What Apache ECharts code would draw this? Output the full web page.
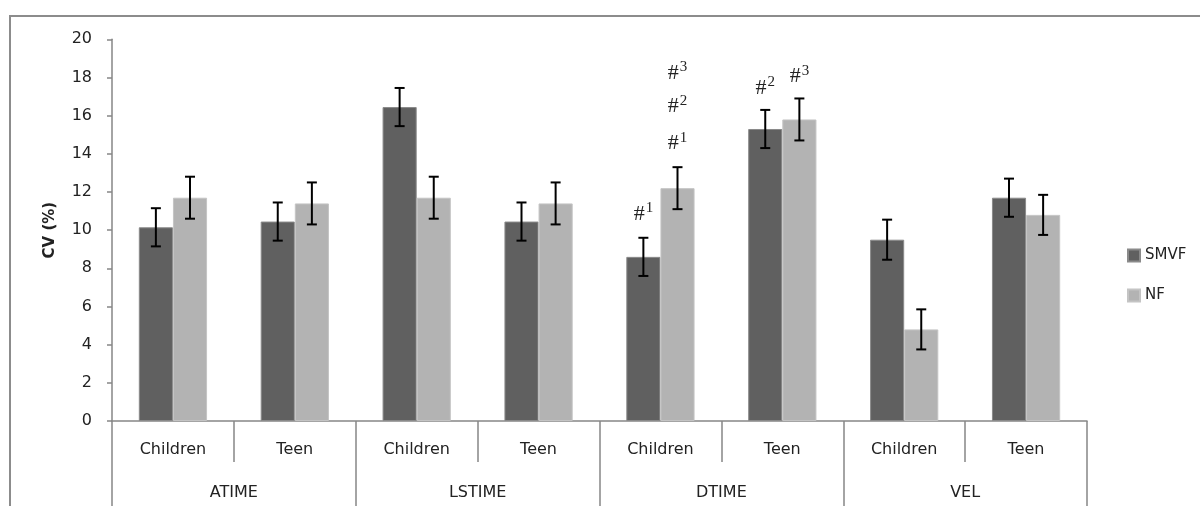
<!DOCTYPE html>
<html>
<head>
<meta charset="utf-8">
<script src="https://cdn.jsdelivr.net/npm/echarts@6/dist/echarts.min.js"></script>
<style>
html,body{margin:0;padding:0;background:#fff;}
#wrap{position:relative;width:1200px;height:506px;overflow:hidden;}
#chart{position:absolute;left:0;top:0;width:1200px;height:506px;}
#frame{position:absolute;left:9px;top:15px;width:1300px;height:600px;border-top:2px solid #8c8c8c;border-left:2px solid #8c8c8c;pointer-events:none;}
</style>
</head>
<body>
<div id="wrap"><div id="chart"></div><div id="frame"></div></div>
<script>
// ---- data ----
const subCategories = ['Children','Teen','Children','Teen','Children','Teen','Children','Teen'];
const groups = ['ATIME','LSTIME','DTIME','VEL'];
const smvf    = [10.15, 10.45, 16.45, 10.45, 8.6, 15.3, 9.5, 11.7];
const smvfErr = [1.0, 1.0, 1.0, 1.0, 1.0, 1.0, 1.05, 1.0];
const nf      = [11.7, 11.4, 11.7, 11.4, 12.2, 15.8, 4.8, 10.8];
const nfErr   = [1.1, 1.1, 1.1, 1.1, 1.1, 1.1, 1.05, 1.05];
const yTicks  = {min: 0, max: 20, interval: 2};
// annotations: [category index, value, superscript]
const smvfNotes = [[4, 10.9, '1'], [5, 17.5, '2']];
const nfNotes   = [[4, 14.6, '1'], [4, 16.55, '2'], [4, 18.3, '3'], [5, 18.1, '3']];

const chart = echarts.init(document.getElementById('chart'), null, {renderer: 'canvas'});
const font = 'DejaVu Sans';
const axisColor = '#868686';
const catGap = 0.44;
const halfOffset = (1 - catGap) / 4; // fraction of band width from center to bar center

function errSeries(name, vals, errs, sign) {
  return {
    type: 'custom',
    name: name + ' err',
    xAxisIndex: 0,
    z: 5,
    silent: true,
    data: vals.map((v, i) => [i, v, errs[i]]),
    encode: {x: 0, y: 1},
    renderItem: function (params, api) {
      const x = api.value(0), v = api.value(1), e = api.value(2);
      const band = api.size([1, 0])[0];
      const top = api.coord([x, v + e]);
      const bot = api.coord([x, v - e]);
      const cx = top[0] + sign * band * halfOffset;
      const cap = 5;
      const st = {stroke: '#000', lineWidth: 2};
      return {
        type: 'group',
        children: [
          {type: 'line', shape: {x1: cx, y1: top[1], x2: cx, y2: bot[1]}, style: st},
          {type: 'line', shape: {x1: cx - cap, y1: top[1], x2: cx + cap, y2: top[1]}, style: st},
          {type: 'line', shape: {x1: cx - cap, y1: bot[1], x2: cx + cap, y2: bot[1]}, style: st}
        ]
      };
    }
  };
}

function notes(list) {
  return {
    symbol: 'circle',
    symbolSize: 0,
    silent: true,
    label: {
      show: true,
      position: 'inside',
      formatter: p => '{h|#}{s|' + p.data.sup + '}',
      rich: {
        h: {fontFamily: 'Liberation Serif', fontSize: 22, color: '#222', verticalAlign: 'bottom', lineHeight: 24},
        s: {fontFamily: 'Liberation Serif', fontSize: 15, color: '#222', verticalAlign: 'top', lineHeight: 24, padding: [0, 0, 10, 1]}
      }
    },
    data: list.map(n => ({coord: [n[0], n[1]], sup: n[2]}))
  };
}

chart.setOption({
  animation: false,
  backgroundColor: '#fff',
  textStyle: {fontFamily: font},
  legend: {
    orient: 'vertical',
    left: 1122,
    top: 243,
    itemWidth: 12,
    itemHeight: 12,
    itemGap: 25,
    icon: 'rect',
    textStyle: {fontFamily: font, fontSize: 15, color: '#222'},
    data: ['SMVF', 'NF']
  },
  grid: {left: 112, right: 113, top: 39.3, bottom: 85, containLabel: false},
  xAxis: [
    {
      type: 'category',
      data: subCategories,
      position: 'bottom',
      boundaryGap: true,
      axisLine: {show: true, lineStyle: {color: axisColor, width: 1.5}},
      axisTick: {show: true, interval: 0, length: 41, alignWithLabel: false, lineStyle: {color: axisColor, width: 1.5}},
      axisLabel: {interval: 0, margin: 21, fontFamily: font, fontSize: 16, color: '#222'}
    },
    {
      type: 'category',
      data: groups,
      position: 'bottom',
      gridIndex: 0,
      boundaryGap: true,
      axisLine: {show: false},
      axisTick: {show: true, interval: 0, length: 100, alignWithLabel: false, lineStyle: {color: axisColor, width: 1.5}},
      axisLabel: {interval: 0, margin: 64, fontFamily: font, fontSize: 16, color: '#222'}
    }
  ],
  yAxis: {
    type: 'value',
    min: yTicks.min,
    max: yTicks.max,
    interval: yTicks.interval,
    name: 'CV (%)',
    nameLocation: 'middle',
    nameGap: 54,
    nameRotate: 90,
    nameTextStyle: {fontFamily: font, fontSize: 15, fontWeight: 'bold', color: '#222'},
    axisLine: {show: true, lineStyle: {color: axisColor, width: 1.5}},
    axisTick: {show: true, inside: false, length: 5, lineStyle: {color: axisColor, width: 1.5}},
    axisLabel: {margin: 20, fontFamily: font, fontSize: 16, color: '#222'},
    splitLine: {show: false}
  },
  series: [
    {
      name: 'SMVF',
      type: 'bar',
      xAxisIndex: 0,
      data: smvf,
      barGap: '0%',
      barCategoryGap: (catGap * 100) + '%',
      itemStyle: {color: '#606060', borderColor: '#8a8a8a', borderWidth: 1},
      markPoint: notes(smvfNotes)
    },
    {
      name: 'NF',
      type: 'bar',
      xAxisIndex: 0,
      data: nf,
      barGap: '0%',
      barCategoryGap: (catGap * 100) + '%',
      itemStyle: {color: '#b3b3b3', borderColor: '#c4c4c4', borderWidth: 1},
      markPoint: notes(nfNotes)
    },
    errSeries('SMVF', smvf, smvfErr, -1),
    errSeries('NF', nf, nfErr, 1)
  ]
});
</script>
</body>
</html>
